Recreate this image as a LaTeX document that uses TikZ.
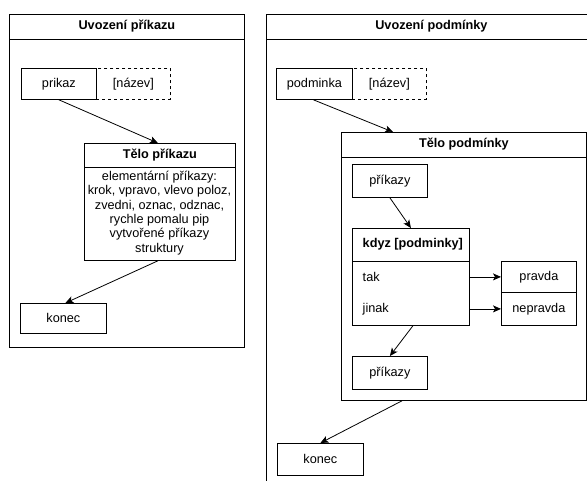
\documentclass[tikz,border=0pt]{standalone}
\usepackage{fontspec}
\setmainfont{Liberation Sans}
\usetikzlibrary{arrows.meta}

\tikzset{
  box/.style={draw, inner sep=0pt, anchor=north west},
  dashbox/.style={box, dash pattern=on 3pt off 3pt},
  heading/.style={font=\fontsize{12.7}{14.4}\selectfont\bfseries},
  link/.style={-{Stealth[length=8pt,width=7pt,inset=2pt]}},
}

\begin{document}
\begin{tikzpicture}[x=1pt, y=-1pt, line width=0.8pt, font=\fontsize{12.7}{14.4}\selectfont]
    \clip (0,0) rectangle (587,480);
    % Uvozeni prikazu
    \node[box, minimum width=235pt, minimum height=333pt] (prikazFrame) at (9,14) {};
    \draw ([yshift=-25pt]prikazFrame.north west) -- ([yshift=-25pt]prikazFrame.north east);
    \node[heading] (prikazTitle) at ([yshift=-12.5pt]prikazFrame.north) {Uvození příkazu};
    \node[dashbox, minimum width=74pt, minimum height=31pt] (prikazNazev) at (96,68) {[název]};
    \node[box, minimum width=75pt, minimum height=31pt] (prikaz) at (21,68) {prikaz};
    \node[box, minimum width=151pt, minimum height=117pt] (teloPrikazu) at (84,143) {};
    \draw ([yshift=-24pt]teloPrikazu.north west) -- ([yshift=-24pt]teloPrikazu.north east);
    \node[heading] (teloPrikazuTitle) at ([yshift=-12pt]teloPrikazu.north) {Tělo příkazu};
    \node[align=center, inner sep=0pt] (teloPrikazuText) at (159.5,213)
      {elementární příkazy:\\krok, vpravo, vlevo poloz,\\zvedni, oznac, odznac,\\rychle pomalu pip\\vytvořené příkazy\\struktury};
    \node[box, minimum width=86pt, minimum height=30pt] (prikazKonec) at (20,303) {konec};
    \draw[link] (prikaz.south) -- ([xshift=-2pt]teloPrikazu.north);
    \draw[link] ([xshift=-2pt]teloPrikazu.south) -- ([xshift=2pt]prikazKonec.north);

    % Uvozeni podminky
    \node[box, minimum width=330pt, minimum height=500pt] (podminkaFrame) at (266,14) {};
    \draw ([yshift=-25pt]podminkaFrame.north west) -- ([yshift=-25pt]podminkaFrame.north east);
    \node[heading] (podminkaTitle) at ([yshift=-12.5pt]podminkaFrame.north) {Uvození podmínky};
    \node[dashbox, minimum width=74pt, minimum height=31pt] (podminkaNazev) at (352,68) {[název]};
    \node[box, minimum width=76pt, minimum height=31pt] (podminka) at (276,68) {podminka};
    \node[box, minimum width=245pt, minimum height=268pt] (teloPodminky) at (341,132) {};
    \draw ([yshift=-25pt]teloPodminky.north west) -- ([yshift=-25pt]teloPodminky.north east);
    \node[heading] (teloPodminkyTitle) at ([yshift=-12.5pt]teloPodminky.north) {Tělo podmínky};
    \node[box, minimum width=75pt, minimum height=33pt] (prikazyPred) at (352,164) {příkazy};
    \node[box, minimum width=117pt, minimum height=97pt] (kdyz) at (352,228) {};
    \draw ([yshift=-33pt]kdyz.north west) -- ([yshift=-33pt]kdyz.north east);
    \node[heading, anchor=west] (kdyzTitle) at (359,244.5) {kdyz [podminky]};
    \node[anchor=west] (tak) at (359,277) {tak};
    \node[anchor=west] (jinak) at (359,309) {jinak};
    \node[box, minimum width=75pt, minimum height=31pt] (pravda) at (501,261) {pravda};
    \node[box, minimum width=75pt, minimum height=33pt] (nepravda) at (501,292) {nepravda};
    \node[box, minimum width=75pt, minimum height=33pt] (prikazyPo) at (352,356) {příkazy};
    \node[box, minimum width=86pt, minimum height=32pt] (podminkaKonec) at (277,443) {konec};
    \draw[link] ([xshift=-1pt]podminka.south) -- ([xshift=52pt]teloPodminky.north west);
    \draw[link] (prikazyPred.south) -- (kdyz.north);
    \draw[link] (kdyz.east |- pravda.west) -- (pravda.west);
    \draw[link] (kdyz.east |- nepravda.west) -- (nepravda.west);
    \draw[link] ([xshift=2pt]kdyz.south) -- (prikazyPo.north);
    \draw[link] ([xshift=61pt]teloPodminky.south west) -- (podminkaKonec.north);
\end{tikzpicture}
\end{document}
